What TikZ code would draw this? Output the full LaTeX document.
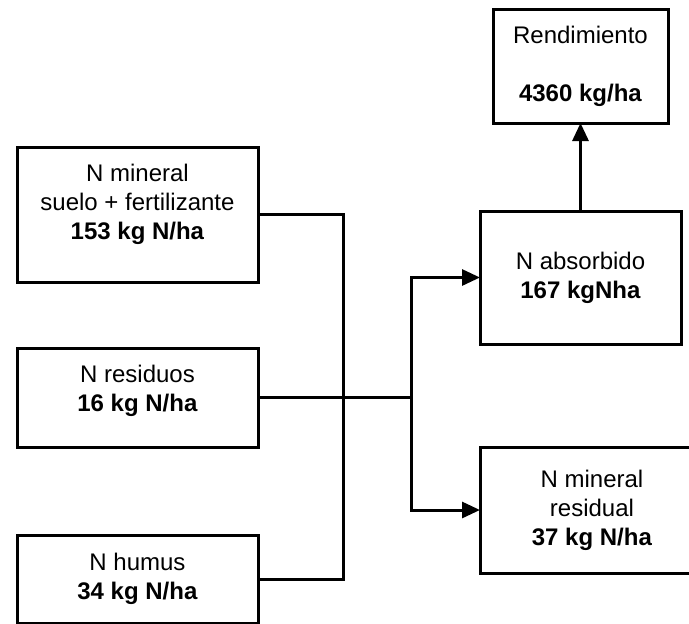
\documentclass[tikz,border=0pt]{standalone}
\usepackage{fontspec}
\setmainfont{Liberation Sans}
\usetikzlibrary{arrows.meta, positioning, calc}

\begin{document}
\begin{tikzpicture}[
  x=1pt, y=-1pt,
  block/.style = {draw, line width=3pt, outer sep=0pt, inner sep=0pt, align=center,
                  font=\fontsize{24}{29}\selectfont},
  wire/.style  = {line width=3pt},
  arrow/.style = {line width=3pt, -{Triangle[length=18pt, width=16pt]}}
]
  \clip (0,0) rectangle (689,624);

  % ======================================================
  % N sources (left column)
  % ======================================================
  \node[block, minimum width=241pt, minimum height=135pt] (nmin) at (137.5,214.5) {
    N mineral\\
    suelo + fertilizante\\
    \textbf{153 kg N/ha}\\[-4pt]\mbox{}
  };

  \node[block, minimum width=241pt, minimum height=99pt, below=66pt of nmin] (nres) {
    N residuos\\
    \textbf{16 kg N/ha}\\[-10pt]\mbox{}
  };

  \node[block, minimum width=241pt, minimum height=88pt, below=88pt of nres] (nhum) {
    N humus\\
    \textbf{34 kg N/ha}
  };

  % ======================================================
  % N uptake, yield and residual N (right column)
  % ======================================================
  \node[block, minimum width=201pt, minimum height=133pt] (nabs) at (580.5,277.5) {
    N absorbido\\
    \textbf{167 kgNha}
  };

  \node[block, minimum width=175pt, minimum height=114pt, above=88pt of nabs] (rend) {
    Rendimiento\\[29pt]
    \textbf{4360 kg/ha}
  };

  \node[block, minimum width=224pt, minimum height=126pt,
        below=103pt of nabs.south west, anchor=north west] (nresid) {
    N mineral\\
    residual\\
    \textbf{37 kg N/ha}
  };

  % collector lines
  \coordinate[right=85pt of nmin.east] (busA);
  \coordinate[right=153pt of nres.east] (busB);
  \draw[wire] (nmin.east) -- (busA) |- (nhum.east);
  \draw[wire] (nres.east) -- (busB);

  % split to uptake and residual
  \draw[arrow] (busB) |- (nabs.west);
  \draw[arrow] (busB) |- (nresid.west);

  % uptake -> yield
  \draw[arrow] (nabs.north) -- (rend.south);

\end{tikzpicture}
\end{document}
